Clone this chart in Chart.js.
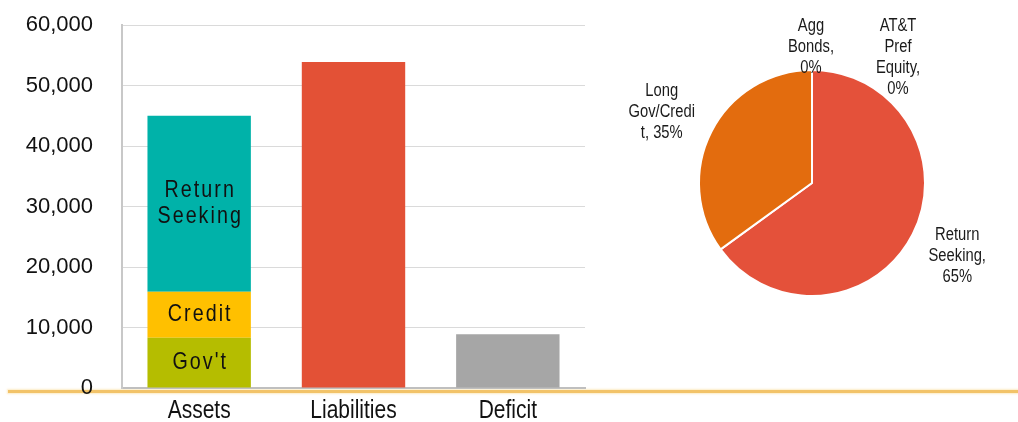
<!DOCTYPE html>
<html>
<head>
<meta charset="utf-8">
<script src="https://cdn.jsdelivr.net/npm/chart.js@4.4.1/dist/chart.umd.min.js"></script>
<style>
  body { margin: 0; background: #fff; }
  #wrap { position: relative; width: 1018px; height: 422px; overflow: hidden; }
  #barBox { position: absolute; left: 0; top: 0; width: 600px; height: 422px; }
  #pieBox { position: absolute; left: 600px; top: 0; width: 418px; height: 366px; }
  #rule { position: absolute; left: 8px; right: 0; top: 390px; height: 3px; background: #f2c369;
          box-shadow: 0 0 2px 1px rgba(250, 222, 160, 0.6); }
</style>
</head>
<body>
<div id="wrap">
  <div id="rule"></div>
  <div id="barBox"><canvas id="fundingBars"></canvas></div>
  <div id="pieBox"><canvas id="allocationPie"></canvas></div>
</div>
<script>
// Funded status: asset stack vs liabilities, and the gap between them
let barCategories = ['Assets', 'Liabilities', 'Deficit']
let govtValues = [8300, null, null]
let creditValues = [7600, null, null]
let returnSeekingValues = [29100, null, null]
let liabilityValues = [null, 53900, null]
let deficitValues = [null, null, 8900]
let yTickValues = [0, 10000, 20000, 30000, 40000, 50000, 60000]

// Target allocation (percent)
let pieNames = ['Agg Bonds', 'AT&T Pref Equity', 'Return Seeking', 'Long Gov/Credit']
let pieShares = [0, 0, 65, 35]

const condensed = 0.82

// narrow text: squeeze Liberation Sans horizontally
const drawCondensed = (ctx, text, x, y, spacing = 0, squeeze = condensed) => {
    ctx.save()
    ctx.translate(x, y)
    ctx.scale(squeeze, 1)
    ctx.fillText(text, spacing / 2, 0)
    ctx.restore()
}

// word wrap, breaking inside a word when it is too long on its own
const wrapText = (ctx, text, maxWidth) => {
    const fits = s => ctx.measureText(s).width * condensed <= maxWidth
    let lines = []
    let line = ''
    for (let word of text.split(' ')) {
        let trial = line ? line + ' ' + word : word
        if (fits(trial)) { line = trial; continue }
        if (line) lines.push(line)
        line = word
        while (!fits(line)) {
            let cut = line.length - 1
            while (cut > 1 && !fits(line.slice(0, cut))) cut--
            lines.push(line.slice(0, cut))
            line = line.slice(cut)
        }
    }
    if (line) lines.push(line)
    return lines
}

const segmentLabels = {
    id: 'segmentLabels',
    afterDatasetsDraw(chart) {
        const ctx = chart.ctx
        const spacing = 2.5
        ctx.save()
        ctx.font = '24px "Liberation Sans", Arial, sans-serif'
        ctx.fillStyle = '#111'
        ctx.textAlign = 'center'
        ctx.textBaseline = 'middle'
        ctx.letterSpacing = spacing + 'px'
        chart.data.datasets.forEach((ds, i) => {
            if (!ds.inBarLabel) return
            chart.getDatasetMeta(i).data.forEach((bar, j) => {
                if (ds.data[j] == null) return
                const lines = wrapText(ctx, ds.label, bar.width - 10)
                const midY = (bar.y + bar.base) / 2
                lines.forEach((t, k) => drawCondensed(ctx, t, bar.x, midY + (k - (lines.length - 1) / 2) * 26, spacing))
            })
        })
        ctx.restore()
    }
}

// category names under the bars, in the same narrow face
const categoryLabels = {
    id: 'categoryLabels',
    afterDraw(chart) {
        const ctx = chart.ctx
        const xs = chart.scales.x
        ctx.save()
        ctx.font = '25px "Liberation Sans", Arial, sans-serif'
        ctx.fillStyle = '#111'
        ctx.textAlign = 'center'
        ctx.textBaseline = 'alphabetic'
        chart.data.labels.forEach((name, i) => {
            drawCondensed(ctx, name, xs.getPixelForTick(i), chart.chartArea.bottom + 30, 0, 0.84)
        })
        ctx.restore()
    }
}

const sliceLabels = {
    id: 'sliceLabels',
    afterDatasetsDraw(chart, args, opts) {
        const ctx = chart.ctx
        const meta = chart.getDatasetMeta(0)
        ctx.save()
        ctx.font = '18px "Liberation Sans", Arial, sans-serif'
        ctx.fillStyle = '#1a1a1a'
        ctx.textAlign = 'center'
        ctx.textBaseline = 'middle'
        meta.data.forEach((arc, i) => {
            const mid = (arc.startAngle + arc.endAngle) / 2
            const r = arc.outerRadius + opts.gap
            const [dx, dy] = opts.nudge[i]
            const x = arc.x + Math.cos(mid) * r + dx
            const y = arc.y + Math.sin(mid) * r + dy
            const text = pieNames[i] + ', ' + pieShares[i] + '%'
            const lines = wrapText(ctx, text, opts.wrap[i])
            lines.forEach((t, k) => drawCondensed(ctx, t, x, y + (k - (lines.length - 1) / 2) * opts.lineHeight))
        })
        ctx.restore()
    }
}

const tickFont = { family: '"Liberation Sans", Arial, sans-serif', size: 22 }

new Chart(document.getElementById('fundingBars'), {
    type: 'bar',
    data: {
        labels: barCategories,
        datasets: [
            { label: "Gov't", data: govtValues, backgroundColor: '#b5bd00', inBarLabel: true },
            { label: 'Credit', data: creditValues, backgroundColor: '#ffc000', inBarLabel: true },
            { label: 'Return Seeking', data: returnSeekingValues, backgroundColor: '#00b2a9', inBarLabel: true },
            { label: 'Liabilities', data: liabilityValues, backgroundColor: '#e35136' },
            { label: 'Deficit', data: deficitValues, backgroundColor: '#a6a6a6' }
        ]
    },
    options: {
        responsive: true,
        maintainAspectRatio: false,
        animation: false,
        layout: { padding: { top: 25, right: 15, bottom: 0, left: 0 } },
        datasets: { bar: { categoryPercentage: 1, barPercentage: 0.67 } },
        plugins: { legend: { display: false }, tooltip: { enabled: false } },
        scales: {
            x: {
                stacked: true,
                grid: { display: false },
                border: { color: '#bfbfbf', width: 2 },
                ticks: { display: false },
                afterFit: s => { s.height = 34 }
            },
            y: {
                stacked: true,
                min: 0,
                max: 60000,
                afterBuildTicks: s => { s.ticks = yTickValues.map(v => ({ value: v })) },
                grid: { color: '#dadada', drawTicks: false },
                border: { color: '#c8c8c8', width: 2 },
                ticks: { font: tickFont, color: '#111', padding: 29, callback: v => v.toLocaleString('en-US') },
                // the label gap would otherwise be added above and below the plot too
                afterFit: s => { s.width = 122; s.paddingTop = 13; s.paddingBottom = 13 }
            }
        }
    },
    plugins: [segmentLabels, categoryLabels]
})

new Chart(document.getElementById('allocationPie'), {
    type: 'pie',
    data: {
        labels: pieNames,
        datasets: [{
            data: pieShares,
            backgroundColor: ['#f5b335', '#9bbb59', '#e4513a', '#e36c0e'],
            borderColor: '#ffffff',
            borderWidth: 2
        }]
    },
    options: {
        responsive: true,
        maintainAspectRatio: false,
        animation: false,
        layout: { padding: { left: 98, right: 92, top: 69, bottom: 69 } },
        plugins: {
            legend: { display: false },
            tooltip: { enabled: false },
            sliceLabels: {
                gap: 50,
                lineHeight: 21,
                wrap: [52, 56, 69, 69],
                nudge: [[-1, 27], [86, 38], [0, -1], [-5, 3]]
            }
        }
    },
    plugins: [sliceLabels]
})
</script>
</body>
</html>
